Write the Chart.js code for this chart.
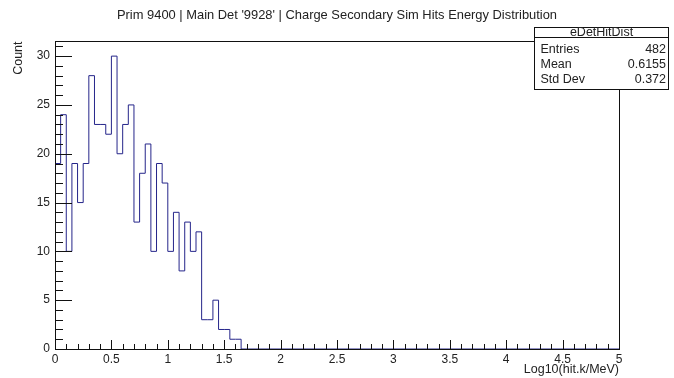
<!DOCTYPE html>
<html>
<head>
<meta charset="utf-8">
<script src="https://cdn.jsdelivr.net/npm/chart.js@4/dist/chart.umd.min.js"></script>
<style>
  html, body { margin: 0; padding: 0; background: #fff; }
  canvas { display: block; }
</style>
</head>
<body>
<canvas id="histo" width="674" height="378"></canvas>
<script>
// histogram eDetHitDist: 0.05 wide bins starting at 0 (only filled bins listed)
const xMin = 0;
const xMax = 5;
const binWidth = 0.05;
const binCounts = [19, 24, 10, 19, 15, 19, 28, 23, 23, 22, 30, 20, 23, 25, 13, 18, 21,
                   10, 19, 17, 10, 14, 8, 13, 10, 12, 3, 3, 5, 2, 2, 1, 1];
const xMajorTicks = [0, 0.5, 1, 1.5, 2, 2.5, 3, 3.5, 4, 4.5, 5];
const xTickLabels = ["0", "0.5", "1", "1.5", "2", "2.5", "3", "3.5", "4", "4.5", "5"];
const yMajorTicks = [0, 5, 10, 15, 20, 25, 30];
const statLabels = ["Entries", "Mean", "Std Dev"];
const statValues = ["482", "0.6155", "0.372"];
const histName = "eDetHitDist";

const yMax = 31.5;
const inkColor = "#222";
const lineColor = "#25258a";

// step outline: start at the axis, one point per low edge, close back to zero
const points = [{ x: xMin, y: 0 }];
binCounts.forEach((c, i) => points.push({ x: xMin + i * binWidth, y: c }));
points.push({ x: xMin + binCounts.length * binWidth, y: 0 });
points.push({ x: xMax, y: 0 });

Chart.defaults.font.family = "'Liberation Sans', Arial, Helvetica, sans-serif";
Chart.defaults.font.size = 12;
Chart.defaults.color = inkColor;

// ROOT-like frame with inward ticks + stats box
const rootFrame = {
  id: "rootFrame",
  afterDraw(chart) {
    const { ctx, chartArea: a, scales: { x, y } } = chart;
    ctx.save();
    ctx.strokeStyle = "#111";
    ctx.lineWidth = 1;
    ctx.strokeRect(Math.round(a.left) + 0.5, Math.round(a.top) + 0.5,
                   Math.round(a.right - a.left), Math.round(a.bottom - a.top));

    ctx.beginPath();
    // x ticks: major every 0.5, minor every 0.1
    for (let k = 0; k <= 50; k++) {
      const px = Math.round(x.getPixelForValue(k / 10)) + 0.5;
      const len = k % 5 === 0 ? 9 : 5;
      ctx.moveTo(px, a.bottom);
      ctx.lineTo(px, a.bottom - len);
    }
    // y ticks: major every 5, minor every 1
    for (let v = 0; v <= 31; v++) {
      const py = Math.round(y.getPixelForValue(v)) + 0.5;
      const len = v % 5 === 0 ? 17 : 8;
      ctx.moveTo(a.left, py);
      ctx.lineTo(a.left + len, py);
    }
    ctx.stroke();

    // stats box
    const bx = 534.5, by = 27.5, bw = 134, bh = 62, headH = 10;
    ctx.fillStyle = "#fff";
    ctx.fillRect(bx, by, bw, bh);
    ctx.strokeStyle = "#111";
    ctx.strokeRect(bx, by, bw, bh);
    ctx.beginPath();
    ctx.moveTo(bx, by + headH);
    ctx.lineTo(bx + bw, by + headH);
    ctx.stroke();

    ctx.fillStyle = inkColor;
    ctx.font = "12.5px 'Liberation Sans', Arial, sans-serif";
    ctx.textBaseline = "middle";
    ctx.textAlign = "center";
    ctx.fillText(histName, bx + bw / 2, by + 5.5);
    statLabels.forEach((lab, i) => {
      const ty = 50 + i * 15;
      ctx.textAlign = "left";
      ctx.fillText(lab, 540.5, ty);
      ctx.textAlign = "right";
      ctx.fillText(statValues[i], 666, ty);
    });
    ctx.restore();
  }
};

new Chart(document.getElementById("histo"), {
  type: "line",
  data: {
    datasets: [{
      label: histName,
      data: points,
      stepped: "before",
      borderColor: lineColor,
      borderWidth: 1,
      pointRadius: 0,
      fill: false
    }]
  },
  options: {
    responsive: false,
    animation: false,
    devicePixelRatio: 1,
    layout: { padding: 0 },
    plugins: {
      legend: { display: false },
      tooltip: { enabled: false },
      title: {
        display: true,
        text: "Prim 9400 | Main Det '9928' | Charge Secondary Sim Hits Energy Distribution",
        color: inkColor,
        font: { size: 12.9, weight: "normal" },
        padding: { top: 7.5, bottom: 18.5 }
      }
    },
    scales: {
      x: {
        type: "linear",
        min: xMin,
        max: xMax,
        afterFit: s => { s.height = 29; },
        afterBuildTicks: s => { s.ticks = xMajorTicks.map(v => ({ value: v })); },
        ticks: {
          autoSkip: false,
          maxRotation: 0,
          padding: 3,
          color: inkColor,
          callback: (v, i) => xTickLabels[i]
        },
        grid: { display: false, drawTicks: false },
        border: { display: false },
        title: {
          display: true,
          text: "Log10(hit.k/MeV)",
          align: "end",
          color: inkColor,
          font: { size: 12.5 },
          padding: { top: 0, bottom: 0.8 }
        }
      },
      y: {
        type: "linear",
        min: 0,
        max: yMax,
        afterFit: s => { s.width = 55; },
        afterBuildTicks: s => { s.ticks = yMajorTicks.map(v => ({ value: v })); },
        ticks: { padding: 5, color: inkColor },
        grid: { display: false, drawTicks: false },
        border: { display: false },
        title: {
          display: true,
          text: "Count",
          align: "end",
          color: inkColor,
          font: { size: 12.5 },
          padding: { top: 11.5, bottom: 0 }
        }
      },
      // empty margin on the right side of the frame
      yRight: {
        type: "linear",
        position: "right",
        min: 0,
        max: yMax,
        afterFit: s => { s.width = 55; },
        ticks: { display: false },
        grid: { display: false, drawTicks: false },
        border: { display: false }
      }
    }
  },
  plugins: [rootFrame]
});
</script>
</body>
</html>
